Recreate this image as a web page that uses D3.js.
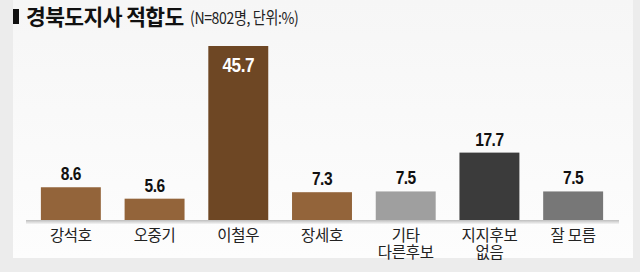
<!DOCTYPE html>
<html>
<head>
<meta charset="utf-8">
<script src="https://d3js.org/d3.v7.min.js"></script>
<style>
  html, body { margin: 0; padding: 0; background: #ececec; }
  svg { display: block; }
</style>
</head>
<body>
<svg id="chart" width="640" height="272"></svg>
<script>
// data
const categories = ['강석호', '오중기', '이철우', '장세호', '기타\n다른후보', '지지후보\n없음', '잘 모름'];
const values = [8.6, 5.6, 45.7, 7.3, 7.5, 17.7, 7.5];
const barColors = ['#93643a', '#93643a', '#6e4724', '#93643a', '#9f9f9f', '#3b3b3b', '#777777'];

const svg = d3.select('#chart');
const W = 640, H = 272;

// background panel
const defs = svg.append('defs');
const bg = defs.append('linearGradient').attr('id', 'panel').attr('x1', 0).attr('y1', 0).attr('x2', 0).attr('y2', 1);
bg.append('stop').attr('offset', '0%').attr('stop-color', '#f6f6f6');
bg.append('stop').attr('offset', '100%').attr('stop-color', '#fdfdfd');
const base = defs.append('linearGradient').attr('id', 'base').attr('x1', 0).attr('y1', 0).attr('x2', 0).attr('y2', 1);
base.append('stop').attr('offset', '0%').attr('stop-color', '#bdbdbd');
base.append('stop').attr('offset', '100%').attr('stop-color', '#f4f4f4');

svg.append('rect').attr('width', W).attr('height', H).attr('fill', '#ececec');
svg.append('rect').attr('x', 13).attr('y', 0).attr('width', 620).attr('height', 258).attr('fill', 'url(#panel)');

// title
svg.append('rect').attr('x', 13).attr('y', 9).attr('width', 6).attr('height', 15).attr('fill', '#111');
svg.append('text').attr('x', 26).attr('y', 25)
  .attr('font-family', '"Noto Sans CJK KR", sans-serif').attr('fill', '#111')
  .attr('font-size', 21.5).attr('font-weight', 700).attr('letter-spacing', -0.6)
  .text('경북도지사 적합도');
svg.append('text').attr('transform', 'translate(190,24) scale(0.85,1)')
  .attr('font-family', '"Noto Sans CJK KR", sans-serif').attr('fill', '#222')
  .attr('font-size', 16.5).attr('letter-spacing', -0.4)
  .text('(N=802명, 단위:%)');

// scales
const x = d3.scaleBand().domain(categories).range([29, 615]).paddingInner(0.284).paddingOuter(0.142);
const baseline = 220;
const y = d3.scaleLinear().domain([0, 45.7]).range([baseline, 46]);

// baseline shadow
svg.append('rect').attr('x', 26).attr('y', baseline).attr('width', 593).attr('height', 4).attr('fill', 'url(#base)');

// bars
svg.append('g').selectAll('rect').data(values).join('rect')
  .attr('x', (d, i) => x(categories[i]))
  .attr('y', d => y(d))
  .attr('width', x.bandwidth())
  .attr('height', d => baseline - y(d))
  .attr('fill', (d, i) => barColors[i]);

// value labels (condensed by horizontal scaling)
const maxV = d3.max(values);
const sx = 0.82;
svg.append('g').selectAll('text').data(values).join('text')
  .attr('transform', (d, i) => {
    const cx = x(categories[i]) + x.bandwidth() / 2;
    const ty = d === maxV ? y(d) + 26 : y(d) - 7;
    return `translate(${cx},${ty}) scale(${sx},1)`;
  })
  .attr('text-anchor', 'middle')
  .attr('font-family', '"Liberation Sans", Arial, sans-serif')
  .attr('font-weight', 700)
  .attr('font-size', d => d === maxV ? 21 : 19)
  .attr('letter-spacing', -0.6)
  .attr('fill', d => d === maxV ? '#fff' : '#111')
  .text(d => d.toFixed(1));

// category labels
const xAxis = svg.append('g');
categories.forEach(c => {
  const lines = c.split('\n');
  lines.forEach((l, i) => {
    xAxis.append('text')
      .attr('x', x(c) + x.bandwidth() / 2)
      .attr('y', 241 + i * 16.5)
      .attr('text-anchor', 'middle')
      .attr('font-family', '"Noto Sans CJK KR", sans-serif')
      .attr('font-size', 15.5)
      .attr('letter-spacing', -0.3)
      .attr('fill', '#222')
      .text(l);
  });
});
</script>
</body>
</html>
